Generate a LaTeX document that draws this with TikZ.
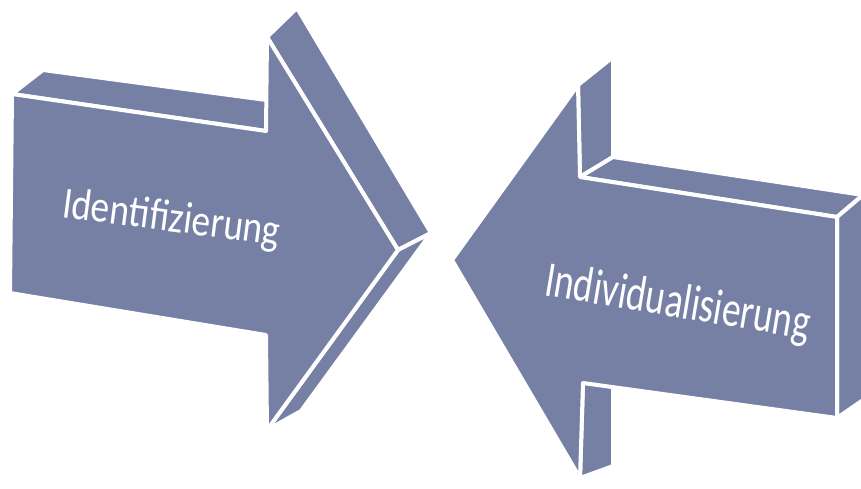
\documentclass[tikz,border=0pt]{standalone}
\usepackage{fontspec}
\setmainfont{Carlito}
\usepackage{graphicx}
\definecolor{arrowfill}{RGB}{118,128,165}
\begin{document}
\begin{tikzpicture}[x=1pt,y=-1pt,
  face/.style={fill=arrowfill, draw=white, line width=4pt, line join=round},
  lbl/.style={text=white, inner sep=0pt}]
\useasboundingbox (0,0) rectangle (861,488);
\clip (0,0) rectangle (861,488);
% ---- left arrow (points right) ----
\coordinate (A) at (12,94);
\coordinate (B) at (266,131);
\coordinate (C) at (267,37);
\coordinate (D) at (398,250);
\coordinate (E) at (267,430);
\coordinate (F) at (266,335);
\coordinate (G) at (10,293);
\coordinate (Ab) at (43,70);
\coordinate (Bb) at (296,104);
\coordinate (Cb) at (297,8);
\coordinate (Db) at (431,233);
\coordinate (Eb) at (301,411);
\draw[face] (A) -- (B) -- (Bb) -- (Ab) -- cycle;
\draw[face] (C) -- (D) -- (Db) -- (Cb) -- cycle;
\draw[face] (D) -- (E) -- (Eb) -- (Db) -- cycle;
\draw[face] (A) -- (B) -- (C) -- (D) -- (E) -- (F) -- (G) -- cycle;
\node[lbl, anchor=base west, rotate=-7.5] (t1) at (61,217)
  {\resizebox{219pt}{31pt}{Identifizierung}};
% ---- right arrow (points left) ----
\coordinate (P1) at (452,260);
\coordinate (P2) at (578,85);
\coordinate (P3) at (580,177);
\coordinate (P4) at (837,217);
\coordinate (P5) at (837,418);
\coordinate (P6) at (583,383);
\coordinate (P7) at (580,478);
\coordinate (P2b) at (613,57);
\coordinate (P3b) at (613,157);
\coordinate (P4b) at (863,195);
\coordinate (P5b) at (863,400);
\coordinate (P6b) at (613,365);
\coordinate (P7b) at (613,466);
\draw[face] (P2) -- (P3) -- (P3b) -- (P2b) -- cycle;
\draw[face] (P3) -- (P4) -- (P4b) -- (P3b) -- cycle;
\draw[face] (P4) -- (P5) -- (P5b) -- (P4b) -- cycle;
\draw[face] (P6) -- (P7) -- (P7b) -- (P6b) -- cycle;
\draw[face] (P1) -- (P2) -- (P3) -- (P4) -- (P5) -- (P6) -- (P7) -- cycle;
\node[lbl, anchor=base west, rotate=-9.5] (t2) at (543,295)
  {\resizebox{268pt}{35pt}{Individualisierung}};
\end{tikzpicture}
\end{document}
